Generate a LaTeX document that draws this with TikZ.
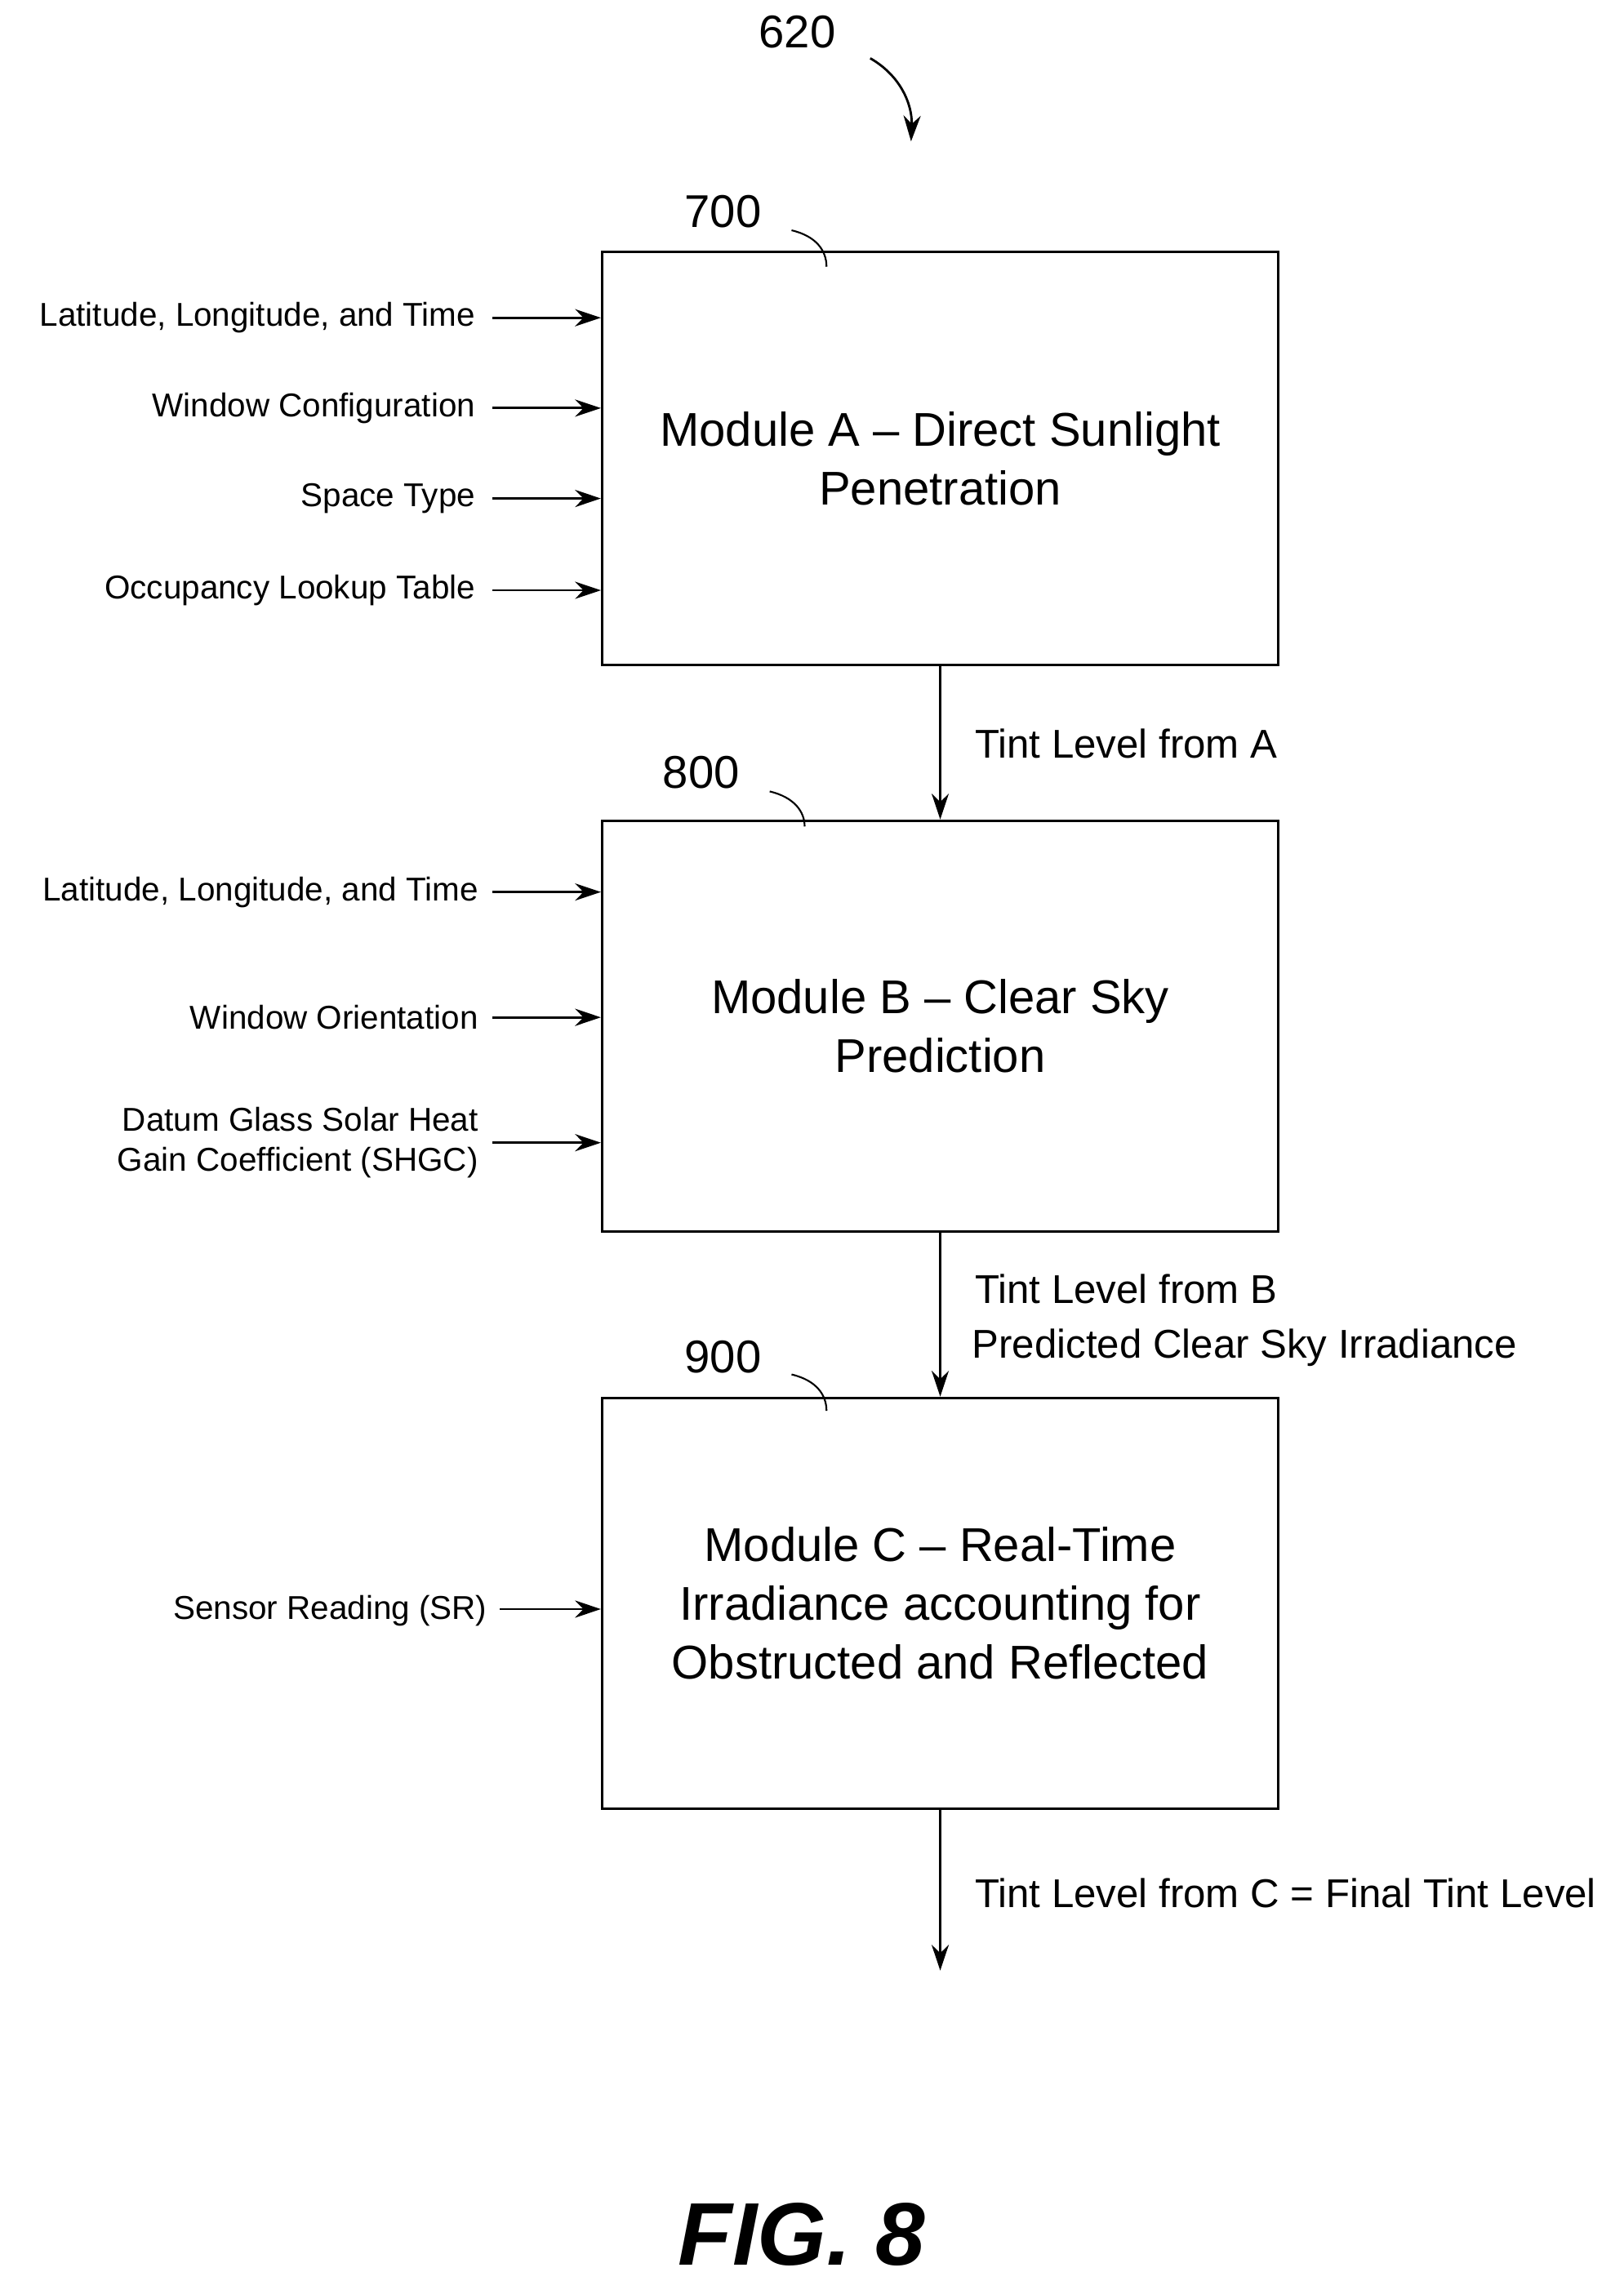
\documentclass[tikz,border=0pt]{standalone}
\usepackage{fontspec}
\setmainfont{Liberation Sans}
\usetikzlibrary{arrows.meta}
\tikzset{
  module/.style={draw, thick, minimum width=464*0.01785cm, inner sep=0pt, align=center, font=\fontsize{16.5}{20.5}\selectfont},
  input/.style={anchor=east, align=right, font=\fontsize{11.5}{14}\selectfont},
  flow/.style={-{Stealth[length=9pt,width=6pt]}, thick},
  hook/.style={semithick},
  tint/.style={anchor=west, align=left, font=\fontsize{14}{19}\selectfont},
  refnum/.style={font=\fontsize{16}{19}\selectfont}
}
\begin{document}
\begin{tikzpicture}[x=0.01785cm, y=-0.01785cm]
    \useasboundingbox (0,0) rectangle (1114,1565);

    % modules
    \node[module, minimum height=283*0.01785cm] (modA) at (645,314.5) {Module A -- Direct Sunlight\\Penetration};
    \node[module, minimum height=282*0.01785cm] (modB) at (645,704) {Module B -- Clear Sky\\Prediction};
    \node[module, minimum height=282*0.01785cm] (modC) at (645,1100) {Module C -- Real-Time\\Irradiance accounting for\\Obstructed and Reflected};

    % reference numbers
    \node[refnum] (n620) at (547,22) {620};
    \node[refnum] (n700) at (496,145) {700};
    \node[refnum] (n800) at (481,530) {800};
    \node[refnum] (n900) at (496,931) {900};
    \draw[flow] (597,40) .. controls (618,52) and (626,72) .. (625,97);
    \draw[hook] (543,158) .. controls (560,162) and (567,172) .. (567,183);
    \draw[hook] (528,543) .. controls (545,547) and (552,557) .. (552,567);
    \draw[hook] (543,943) .. controls (560,947) and (567,957) .. (567,968);

    % inputs to A
    \foreach \y/\txt [count=\i] in {218/{Latitude, Longitude, and Time}, 280/{Window Configuration}, 342/{Space Type}, 405/{Occupancy Lookup Table}} {
      \node[input] (inA\i) at (333,\y) {\txt};
      \coordinate (inA\i e) at (338,\y);
      \draw[flow] (inA\i e) -- (inA\i e -| modA.west);
    }
    % inputs to B
    \foreach \y/\txt [count=\i] in {612/{Latitude, Longitude, and Time}, 698/{Window Orientation}, 784/{Datum Glass Solar Heat\\Gain Coefficient (SHGC)}} {
      \node[input] (inB\i) at (335,\y) {\txt};
      \coordinate (inB\i e) at (338,\y);
      \draw[flow] (inB\i e) -- (inB\i e -| modB.west);
    }
    % input to C
    \node[input] (inC1) at (341,1105) {Sensor Reading (SR)};
    \coordinate (inC1e) at (343,1104);
    \draw[flow] (inC1e) -- (inC1e -| modC.west);

    % flow between modules
    \coordinate (out) at (645,1352);
    \draw[flow] (modA) -- (modB);
    \draw[flow] (modB) -- (modC);
    \draw[flow] (modC) -- (out);
    \node[tint] (tA) at (662,510) {Tint Level from A};
    \node[tint] (tB) at (660,906) {\hspace*{1pt}Tint Level from B\\Predicted Clear Sky Irradiance};
    \node[tint] (tC) at (662,1299) {Tint Level from C = Final Tint Level};

    \node[font=\fontsize{31}{36}\selectfont\bfseries\itshape] (fig) at (550,1533) {FIG. 8};
\end{tikzpicture}
\end{document}
